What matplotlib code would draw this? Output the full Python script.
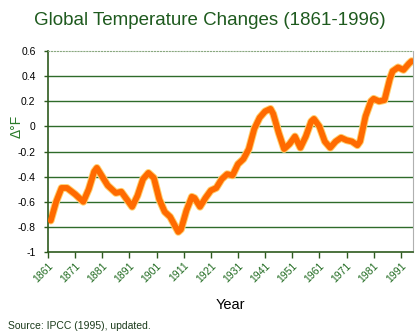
import matplotlib
matplotlib.use("Agg")
import matplotlib.pyplot as plt

years = [1862, 1864, 1866, 1868, 1871, 1874, 1876, 1878, 1879, 1881, 1883, 1886,
         1888, 1890, 1892, 1894, 1896, 1898, 1900, 1902, 1904, 1906, 1908, 1909,
         1910, 1912, 1914, 1915, 1917, 1919, 1921, 1923, 1925, 1927, 1929, 1931,
         1933, 1935, 1937, 1939, 1941, 1943, 1944, 1946, 1948, 1950, 1952, 1954,
         1956, 1958, 1959, 1961, 1963, 1965, 1967, 1969, 1971, 1973, 1975, 1976,
         1978, 1980, 1981, 1983, 1985, 1987, 1988, 1990, 1992, 1994, 1995]
temps = [-0.75, -0.60, -0.49, -0.49, -0.54, -0.60, -0.50, -0.36, -0.33, -0.40,
         -0.47, -0.53, -0.52, -0.58, -0.64, -0.55, -0.42, -0.37, -0.41, -0.58,
         -0.68, -0.72, -0.80, -0.84, -0.82, -0.67, -0.56, -0.57, -0.64, -0.57,
         -0.51, -0.49, -0.42, -0.38, -0.39, -0.30, -0.26, -0.18, -0.02, 0.07,
         0.12, 0.14, 0.10, -0.05, -0.18, -0.14, -0.08, -0.17, -0.08, 0.04,
         0.06, 0.00, -0.12, -0.17, -0.12, -0.09, -0.11, -0.12, -0.15, -0.12,
         0.08, 0.20, 0.22, 0.20, 0.21, 0.38, 0.44, 0.47, 0.45, 0.50, 0.52]

xticks = [1861, 1871, 1881, 1891, 1901, 1911, 1921, 1931, 1941, 1951, 1961,
          1971, 1981, 1991]
yticks = [-1, -0.8, -0.6, -0.4, -0.2, 0, 0.2, 0.4, 0.6]
ytick_labels = ["-1", "-0.8", "-0.6", "-0.4", "-0.2", "0", "0.2", "0.4", "0.6"]

plt.rcParams['font.family'] = ['Liberation Sans', 'DejaVu Sans']
green = '#2d5a1e'

fig = plt.figure(figsize=(4.2, 3.36), dpi=100)
ax = fig.add_axes([0.1143, 0.25, 0.869, 0.598])

for y in yticks[1:-1]:
    ax.axhline(y, color='#2f6b2a', lw=1.0, zorder=1)

ax.plot(years, temps, color='#ffd070', lw=5.6, solid_joinstyle='round',
        solid_capstyle='round', zorder=2)
ax.plot(years, temps, color='#ff6a00', lw=4.2, solid_joinstyle='round',
        solid_capstyle='round', zorder=3)

ax.set_xlim(1861, 1995.5)
ax.set_ylim(-1, 0.6)
ax.set_yticks(yticks)
ax.set_yticklabels(ytick_labels, fontsize=7.5, color='black')
ax.set_xticks(xticks)
ax.set_xticklabels([str(x) for x in xticks], fontsize=7.5, color='#1f6a1f',
                   rotation=45, ha='right', va='top', rotation_mode='anchor')
ax.tick_params(axis='x', length=4, width=1, color=green, direction='out', pad=2)
ax.tick_params(axis='y', length=3, width=1, color=green, direction='out', pad=6)

for s in ['left', 'bottom']:
    ax.spines[s].set_color(green)
    ax.spines[s].set_linewidth(1.2)
ax.spines['top'].set_color('#8aa880')
ax.spines['top'].set_linewidth(0.8)
ax.spines['top'].set_linestyle(':')
ax.spines['right'].set_color('#b0b0b0')
ax.spines['right'].set_linewidth(0.8)

ax.set_ylabel('Δ°F', fontsize=10, color='#2a7a2a')
ax.yaxis.set_label_coords(-0.068, 0.625)
ax.set_xlabel('Year', fontsize=10.5, color='black', labelpad=10)

fig.text(0.5, 0.94, 'Global Temperature Changes (1861-1996)', ha='center',
         va='center', fontsize=13.5, color='#1e5a1e')
fig.text(0.02, 0.03, 'Source: IPCC (1995), updated.', ha='left', va='center',
         fontsize=7.5, color='#1a3a1a')

fig.savefig('out.png', dpi=100)
